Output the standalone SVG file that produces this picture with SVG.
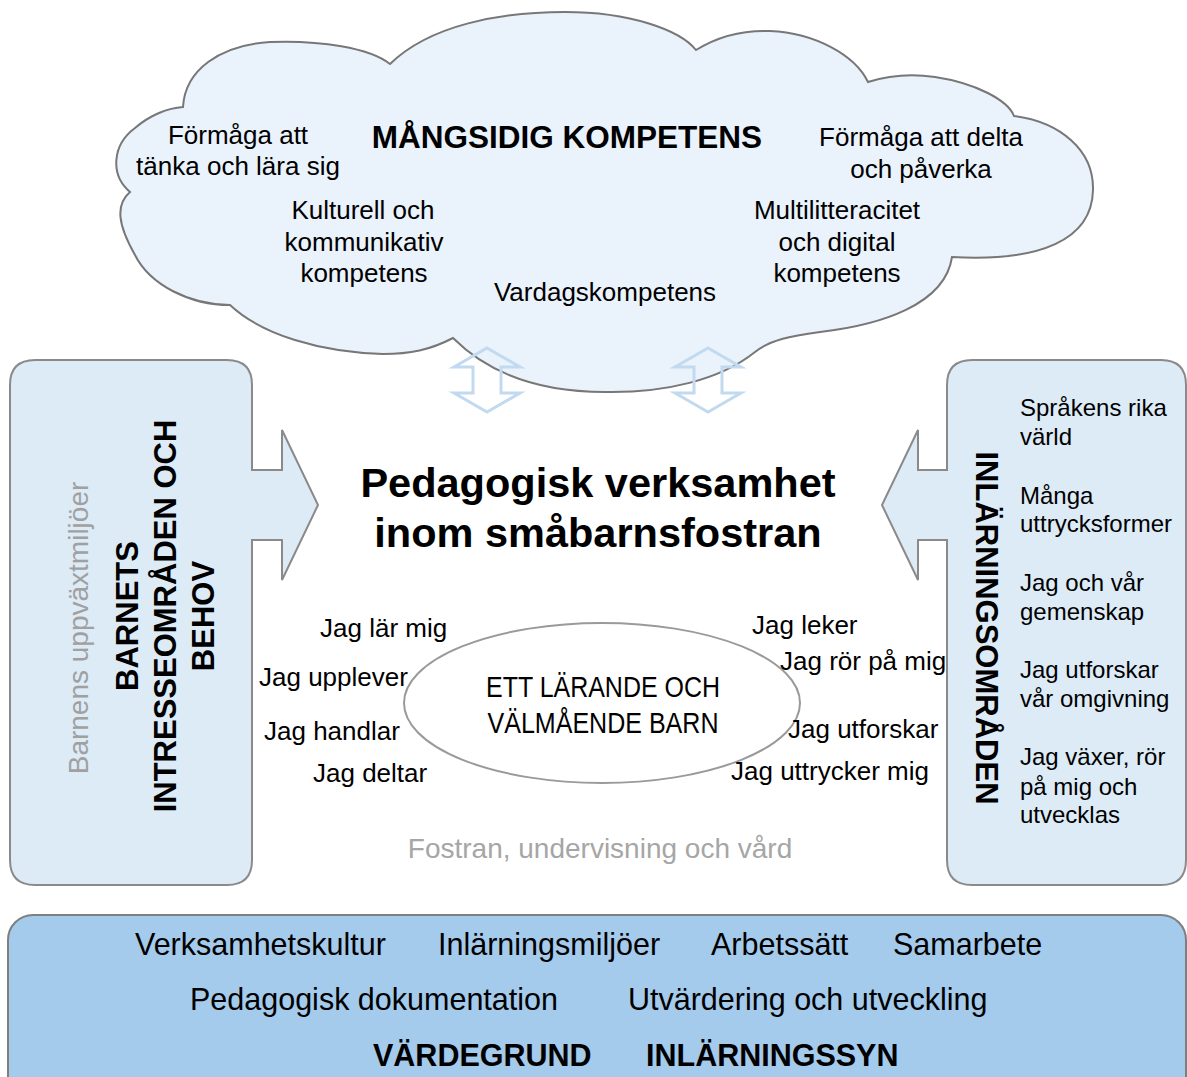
<svg xmlns="http://www.w3.org/2000/svg" width="1187" height="1077" viewBox="0 0 1187 1077">
<style>
text{font-family:"Liberation Sans",Arial,sans-serif;fill:#000}
.c{font-size:26px;text-anchor:middle}
.b{font-weight:bold}
.j{font-size:26px}
.l{font-size:24px}
.f{font-size:30.5px}
.box{fill:#DDEBF7;stroke:#8A8A8A;stroke-width:2}
.dbl{fill:none;stroke:#C2DAF0;stroke-width:3;stroke-linejoin:miter}
</style>
<rect width="1187" height="1077" fill="#fff"/>
<g id="cloud">
<path d="M183,107 C185,70 220,45 270,42 C320,40 370,48 390,64 C430,25 500,12 565,12 C630,12 680,30 696,50 C720,35 745,30 770,31 C815,33 855,55 868,82 C890,75 915,74 935,77 C975,83 1008,100 1014,116 C1060,122 1094,150 1093,190 C1092,240 1040,262 952,257 C945,305 880,325 820,332 C790,336 770,340 755,352 C720,380 665,393 605,392 C540,392 490,375 453,338 C430,350 410,354 383,354 C320,352 262,335 230,305 C190,305 150,285 135,255 C118,225 115,205 130,192 C110,175 112,145 135,128 C150,115 168,108 183,107 Z" fill="#EAF2FB" stroke="#777" stroke-width="2"/>
<text class="c" x="238" y="144">Förmåga att</text>
<text class="c" x="238" y="175">tänka och lära sig</text>
<text class="b" x="567" y="148" font-size="31.5" text-anchor="middle">MÅNGSIDIG KOMPETENS</text>
<text class="c" x="921" y="146">Förmåga att delta</text>
<text class="c" x="921" y="178">och påverka</text>
<text class="c" x="363" y="219">Kulturell och</text>
<text class="c" x="364" y="251">kommunikativ</text>
<text class="c" x="364" y="282">kompetens</text>
<text class="c" x="837" y="219">Multilitteracitet</text>
<text class="c" x="837" y="251">och digital</text>
<text class="c" x="837" y="282">kompetens</text>
<text class="c" x="605" y="301">Vardagskompetens</text>
</g>
<g id="connectors">
<polygon class="dbl" points="487,348 520,367 501,367 501,393 520,393 487,412 454,393 473,393 473,367 454,367"/>
<polygon class="dbl" points="708,348 741,367 722,367 722,393 741,393 708,412 675,393 694,393 694,367 675,367"/>
</g>
<g id="left-box">
<path class="box" d="M35,360 H227 Q252,360 252,385 V470 H282 V430 L318,505 L282,580 V540 H252 V860 Q252,885 227,885 H35 Q10,885 10,860 V385 Q10,360 35,360 Z"/>
<text transform="translate(88,628) rotate(-90)" font-size="28" text-anchor="middle" style="fill:#A0A0A0">Barnens uppväxtmiljöer</text>
<g class="b" font-size="31" text-anchor="middle">
<text transform="translate(138,616) rotate(-90)">BARNETS</text>
<text transform="translate(176,616) rotate(-90)">INTRESSEOMRÅDEN OCH</text>
<text transform="translate(214,616) rotate(-90)">BEHOV</text>
</g>
</g>
<g id="right-box">
<path class="box" d="M972,360 H1161 Q1186,360 1186,385 V860 Q1186,885 1161,885 H972 Q947,885 947,860 V540 H918 V580 L882,505 L918,430 V470 H947 V385 Q947,360 972,360 Z"/>
<text class="b" transform="translate(976,628) rotate(90)" font-size="31" text-anchor="middle">INLÄRNINGSOMRÅDEN</text>
<text class="l" x="1020" y="416">Språkens rika</text>
<text class="l" x="1020" y="445">värld</text>
<text class="l" x="1020" y="504">Många</text>
<text class="l" x="1020" y="532">uttrycksformer</text>
<text class="l" x="1020" y="591">Jag och vår</text>
<text class="l" x="1020" y="620">gemenskap</text>
<text class="l" x="1020" y="678">Jag utforskar</text>
<text class="l" x="1020" y="707">vår omgivning</text>
<text class="l" x="1020" y="765">Jag växer, rör</text>
<text class="l" x="1020" y="795">på mig och</text>
<text class="l" x="1020" y="823">utvecklas</text>
</g>
<g id="center">
<text class="b" x="598" y="497" font-size="41.5" text-anchor="middle">Pedagogisk verksamhet</text>
<text class="b" x="598" y="547" font-size="41.5" text-anchor="middle">inom småbarnsfostran</text>
</g>
<g id="child">
<ellipse cx="602" cy="703" rx="198" ry="80" fill="#fff" stroke="#9A9A9A" stroke-width="2"/>
<text x="603" y="697" font-size="30" text-anchor="middle" textLength="234" lengthAdjust="spacingAndGlyphs">ETT LÄRANDE OCH</text>
<text x="603" y="733" font-size="30" text-anchor="middle" textLength="231" lengthAdjust="spacingAndGlyphs">VÄLMÅENDE BARN</text>
<text class="j" x="320" y="637">Jag lär mig</text>
<text class="j" x="259" y="686">Jag upplever</text>
<text class="j" x="264" y="740">Jag handlar</text>
<text class="j" x="313" y="782">Jag deltar</text>
<text class="j" x="752" y="634">Jag leker</text>
<text class="j" x="780" y="670">Jag rör på mig</text>
<text class="j" x="788" y="738">Jag utforskar</text>
<text class="j" x="731" y="780">Jag uttrycker mig</text>
</g>
<text x="600" y="858" font-size="28" text-anchor="middle" style="fill:#A6A6A6">Fostran, undervisning och vård</text>
<g id="bottom-box">
<rect x="8" y="915" width="1178" height="190" rx="25" fill="#A4CAEC" stroke="#7F7F7F" stroke-width="2"/>
<text class="f" x="135" y="955">Verksamhetskultur</text>
<text class="f" x="438" y="955">Inlärningsmiljöer</text>
<text class="f" x="711" y="955">Arbetssätt</text>
<text class="f" x="893" y="955">Samarbete</text>
<text class="f" x="190" y="1010">Pedagogisk dokumentation</text>
<text class="f" x="628" y="1010">Utvärdering och utveckling</text>
<text class="f b" x="373" y="1066">VÄRDEGRUND</text>
<text class="f b" x="646" y="1066">INLÄRNINGSSYN</text>
</g>
</svg>
